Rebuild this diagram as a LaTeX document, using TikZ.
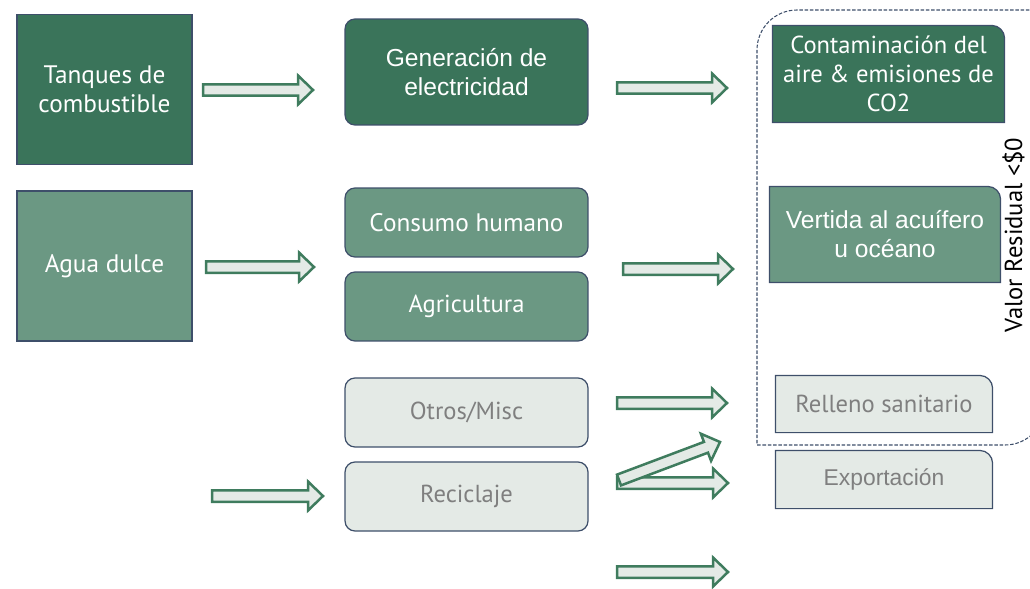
\documentclass[tikz,border=0pt]{standalone}
\usepackage{fontspec}
\setmainfont{PT Sans}
\newfontfamily\arialfont{Liberation Sans}
\usetikzlibrary{calc,backgrounds}

\definecolor{darkgreen}{HTML}{3A745A}
\definecolor{midgreen}{HTML}{6B9883}
\definecolor{palegreen}{HTML}{E4EAE6}
\definecolor{edgeblue}{HTML}{3E4F6A}
\definecolor{arrowgreen}{HTML}{3F7C5E}
\definecolor{greytext}{HTML}{7F7F7F}

\tikzset{
  box/.style={rectangle, line width=0.7pt, align=center, inner sep=0pt,
    font=\fontsize{14}{16.5}\selectfont},
  source/.style={box, draw=edgeblue, minimum width=3.5cm, minimum height=3cm},
  usebox/.style={box, draw=edgeblue, rounded corners=0.2cm, minimum width=4.86cm},
  endbox/.style={box, draw=none},
  arrowline/.style={draw=arrowgreen, fill=palegreen, line width=0.05cm, line join=miter}
}

% block arrow from one coordinate to another
\newcommand{\blockarrow}[2]{%
  \coordinate (neck) at ($(#2)!0.3cm!(#1)$);
  \filldraw[arrowline] ($(#1)!0.115cm!90:(#2)$) -- ($(neck)!0.115cm!90:(#2)$)
    -- ($(neck)!0.29cm!90:(#2)$) -- (#2) -- ($(neck)!0.29cm!-90:(#2)$)
    -- ($(neck)!0.115cm!-90:(#2)$) -- ($(#1)!0.115cm!-90:(#2)$) -- cycle;
}

\begin{document}
\begin{tikzpicture}[x=0.02cm, y=0.02cm]
  \useasboundingbox (0,0) rectangle (1030,-588);

  % inputs
  \node[source, fill=darkgreen, text=white, font=\fontsize{14.4}{16.5}\selectfont] (tanques) at (104.5,-89.5) {Tanques de\\combustible};
  \node[source, fill=midgreen, text=white, font=\fontsize{14.4}{16.5}\selectfont] (agua) at (104.5,-266) {Agua dulce};

  % uses
  \node[usebox, fill=darkgreen, text=white, minimum height=2.12cm, font=\arialfont\fontsize{14}{16.5}\selectfont] (gen) at (466.5,-72) {Generación de\\electricidad};
  \node[usebox, fill=midgreen, text=white, minimum height=1.38cm, font=\fontsize{14.4}{16.5}\selectfont] (consumo) at (466.5,-222.5) {Consumo humano};
  \node[usebox, fill=midgreen, text=white, minimum height=1.38cm] (agri) at (466.5,-306.5) {Agricultura};
  \node[usebox, fill=palegreen, text=greytext, minimum height=1.38cm] (otros) at (466.5,-412.5) {Otros/Misc};
  \node[usebox, fill=palegreen, text=greytext, minimum height=1.38cm] (recic) at (466.5,-496.5) {Reciclaje};

  % destinations
  \node[endbox, text=white, minimum width=4.62cm, minimum height=1.92cm] (cont) at (888.5,-74) {Contaminación del\\aire \& emisiones de\\CO2};
  \node[endbox, text=white, minimum width=4.6cm, minimum height=1.9cm, font=\arialfont\fontsize{14}{16.5}\selectfont] (vert) at (885,-234.5) {Vertida al acuífero\\u océano};
  \node[endbox, text=greytext, minimum width=4.32cm, minimum height=1.12cm] (rell) at (884,-404) {Relleno sanitario};
  \node[endbox, text=greytext, minimum width=4.32cm, minimum height=1.14cm, font=\arialfont\fontsize{13}{15}\selectfont] (expo) at (884,-479.5) {Exportación};

  \begin{scope}[on background layer]
    \foreach \n/\c in {cont/darkgreen, vert/midgreen, rell/palegreen, expo/palegreen} {
      \path[draw=edgeblue, fill=\c, line width=0.7pt] (\n.south west) |- ([xshift=-0.26cm]\n.north east)
        arc[start angle=90, end angle=0, radius=0.26cm] -- (\n.south east) -- cycle;
    }
  \end{scope}

  % dashed frame
  \draw[edgeblue, line width=0.6pt, dash pattern=on 2pt off 1pt] (1040,-10) -- (797,-10)
    arc[start angle=90, end angle=180, radius=0.8cm] -- (757,-445) -- (1005,-445)
    arc[start angle=270, end angle=360, radius=0.8cm] -- (1045,-380);
  \node[rotate=90, anchor=south, inner sep=0pt, font=\fontsize{14}{16.5}\selectfont] (valor) at (1025,-235) {Valor Residual <\$0};

  % arrows
  \coordinate (a1s) at (203,-90);  \coordinate (a1e) at (313,-90);
  \coordinate (a2s) at (206,-267); \coordinate (a2e) at (314,-267);
  \coordinate (a3s) at (617,-88);  \coordinate (a3e) at (727,-88);
  \coordinate (a4s) at (623,-269); \coordinate (a4e) at (733,-269);
  \coordinate (a5s) at (617,-403); \coordinate (a5e) at (727,-403);
  \coordinate (a6s) at (212,-496); \coordinate (a6e) at (323,-496);
  \coordinate (a7s) at (617,-483); \coordinate (a7e) at (728,-483);
  \coordinate (a8s) at (619,-480); \coordinate (a8e) at (720,-442);
  \coordinate (a9s) at (617,-572); \coordinate (a9e) at (728,-572);
  \foreach \i in {1,...,9} {
    \blockarrow{a\i s}{a\i e}
  }
\end{tikzpicture}
\end{document}
